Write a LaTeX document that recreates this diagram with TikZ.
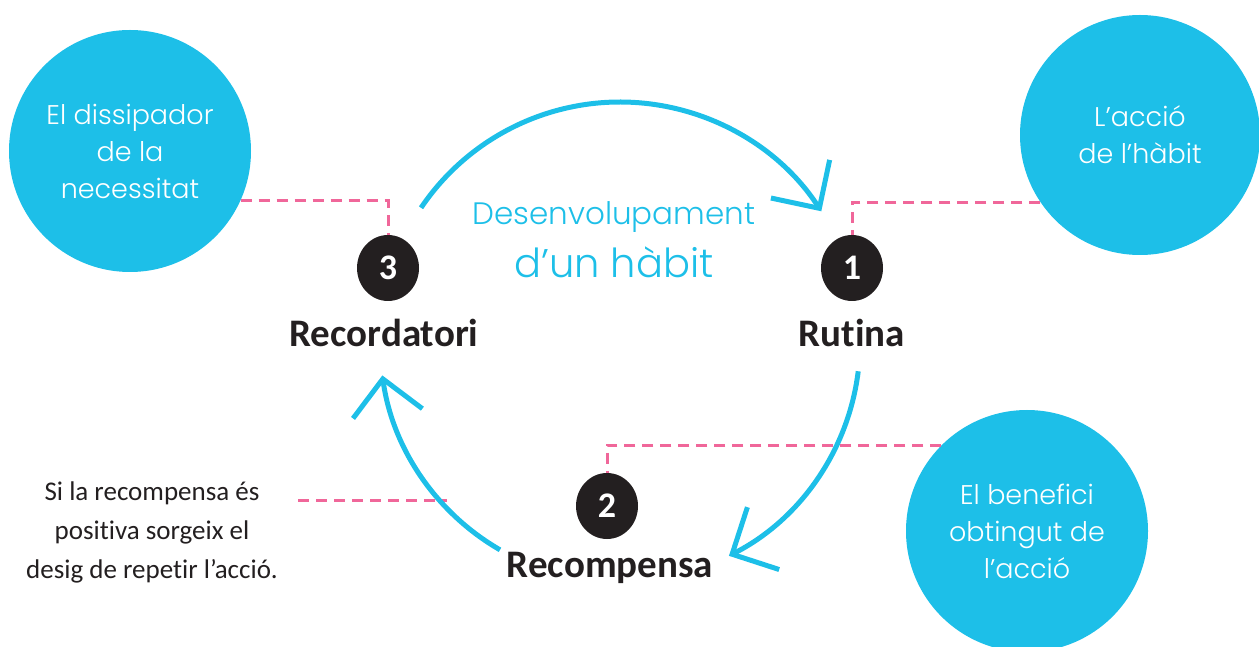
\documentclass[tikz,border=0pt]{standalone}
\usepackage{fontspec}
\setmainfont{Carlito}[Ligatures={NoCommon}]
\newfontfamily\bubblefont{Poppins}[UprightFont=* Light]
\usetikzlibrary{arrows.meta,shapes.geometric}
\definecolor{habitblue}{HTML}{1DBFE8}
\definecolor{habitpink}{HTML}{F0679A}
\definecolor{habitdark}{HTML}{231F20}

\begin{document}
\begin{tikzpicture}[x=1pt, y=1pt,
    bubble/.style={circle, fill=habitblue, text=white, align=center, inner sep=0pt,
      font=\bubblefont\fontsize{27}{37}\selectfont},
    numdot/.style={ellipse, fill=habitdark, text=white, minimum width=62pt,
      minimum height=66pt, inner sep=0pt, font=\bfseries\fontsize{36}{36}\selectfont},
    steplabel/.style={text=habitdark, font=\bfseries\fontsize{39}{47}\selectfont},
    dashline/.style={habitpink, line width=3pt, dash pattern=on 11pt off 7pt},
    looparrow/.style={habitblue, line width=5pt,
      -{Straight Barb[length=35pt, width=70pt]}}]
  \useasboundingbox (0,0) rectangle (1259,646);

  % bubbles
  \node[bubble, minimum size=242pt] (need) at (130,495) {El dissipador\\de la\\necessitat};
  \node[bubble, minimum size=240pt] (act) at (1140,511) {L’acció\\de l’hàbit};
  \node[bubble, minimum size=242pt] (gain) at (1027,115) {El benefici\\obtingut de\\l’acció};

  % steps
  \node[numdot] (n3) at (388,378) {3};
  \node[numdot] (n1) at (852,378) {1};
  \node[numdot] (n2) at (607,140) {2};
  \node[steplabel] (reminder) at (384,313) {Recordatori};
  \node[steplabel] (routine) at (852,313) {Rutina};
  \node[steplabel] (reward) at (610,78) {Recompensa};

  % title
  \node[text=habitblue, font=\bubblefont\fontsize{31}{36}\selectfont] (title) at (614,429) {Desenvolupament};
  \node[text=habitblue, font=\bubblefont\fontsize{40}{48}\selectfont] (subtitle) at (614,384) {d’un hàbit};

  % note
  \node[text=habitdark, align=center, font=\fontsize{27}{39}\selectfont] (note) at (152,114)
    {Si la recompensa és\\positiva sorgeix el\\desig de repetir l’acció.};
  \coordinate (noteA) at (298,146);
  \coordinate (noteB) at (447,146);

  % dashed links
  \draw[dashline] (need.-24) -| (n3.north);
  \draw[dashline] (act.214) -| (n1.north);
  \draw[dashline] (gain.135) -| (n2.north);
  \draw[dashline] (noteA) -- (noteB);

  % cycle
  \coordinate (ctr) at (620,304);
  \draw[looparrow] ([shift={(146:240)}]ctr) arc[start angle=146, end angle=33, radius=240];
  \draw[looparrow] ([shift={(-7:240)}]ctr) arc[start angle=-7, end angle=-63, radius=240];
  \draw[looparrow] ([shift={(240:240)}]ctr) arc[start angle=240, end angle=188, radius=240];
\end{tikzpicture}
\end{document}
